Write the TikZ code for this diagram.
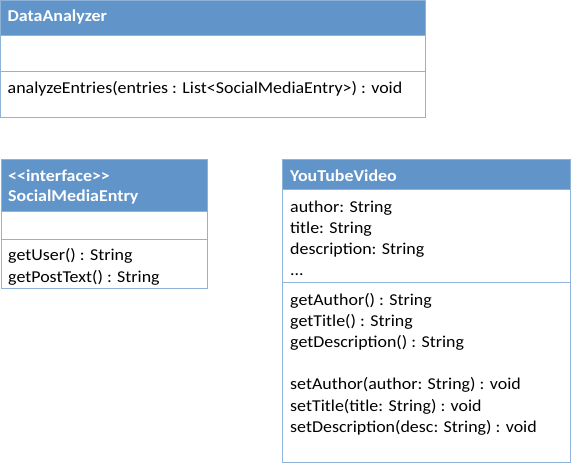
\documentclass[tikz,border=0pt]{standalone}
\usepackage{fontspec}
\setmainfont{Carlito}[FakeStretch=1.08]
\usepackage{tikz}
\usetikzlibrary{positioning}

\definecolor{headblue}{RGB}{97,148,200}
\definecolor{lineblue}{RGB}{143,178,216}

\tikzset{
  part/.style={draw=lineblue, line width=1pt, inner sep=0pt, outer sep=0pt, minimum width=#1},
  head/.style={part=#1, fill=headblue},
  txt/.style={anchor=base west, inner sep=0pt, align=left, font=\fontsize{16.6}{21.2}\selectfont},
  headtxt/.style={txt, text=white, font=\fontsize{16.6}{20}\selectfont\bfseries}
}

\begin{document}
\begin{tikzpicture}[x=1pt,y=-1pt]
\useasboundingbox (0,0) rectangle (571,463);

% DataAnalyzer
\node[head=425pt, minimum height=35pt, anchor=north west] (dahead) at (0.5,0.5) {};
\node[part=425pt, minimum height=36pt, below=0pt of dahead] (daattr) {};
\node[part=425pt, minimum height=46pt, below=0pt of daattr] (daops) {};
\node[headtxt] (daname) at (7.5,21.7) {DataAnalyzer};
\node[txt] (daopstxt) at (7.5,93.5) {analyzeEntries(entries : List<SocialMediaEntry>) : void};

% SocialMediaEntry (base = last line)
\node[head=206pt, minimum height=52pt, anchor=north west] (smhead) at (1,159) {};
\node[part=206pt, minimum height=28pt, below=0pt of smhead] (smattr) {};
\node[part=206pt, minimum height=49pt, below=0pt of smattr] (smops) {};
\node[headtxt] (smname) at (8,201) {<{}<interface>{}>\\SocialMediaEntry};
\node[txt] (smopstxt) at (8,282) {getUser() : String\\getPostText() : String};

% YouTubeVideo
\node[head=288pt, minimum height=30pt, anchor=north west] (ythead) at (282,159) {};
\node[part=288pt, minimum height=93pt, below=0pt of ythead] (ytattr) {};
\node[part=288pt, minimum height=180pt, below=0pt of ytattr] (ytops) {};
\node[headtxt] (ytname) at (290,181) {YouTubeVideo};
\node[txt] (ytattrtxt) at (290,275.6) {author: String\\title: String\\description: String\\...};
\node[txt] (ytopstxt) at (290,432.2) {getAuthor() : String\\getTitle() : String\\getDescription() : String\\[21.2pt]setAuthor(author: String) : void\\setTitle(title: String) : void\\setDescription(desc: String) : void};
\end{tikzpicture}
\end{document}
